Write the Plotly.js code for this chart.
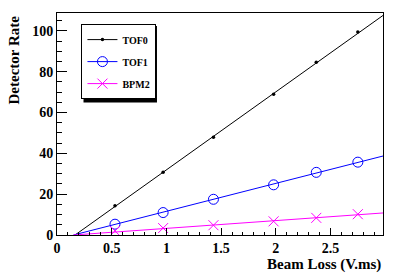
<!DOCTYPE html>
<html>
<head>
<meta charset="utf-8">
<script src="https://cdn.plot.ly/plotly-3.0.1.min.js"></script>
<style>
html,body{margin:0;padding:0;background:#fff;}
#chart{width:407px;height:277px;}
</style>
</head>
<body>
<div id="chart"></div>
<script>
// ---- data ----
var beamLoss = [0.53, 0.97, 1.43, 1.98, 2.37, 2.75];
var tof0 = [14.3, 30.8, 47.9, 69.0, 84.7, 99.5];
var tof1 = [5.3, 11.0, 17.5, 24.6, 30.7, 35.7];
var bpm2 = [2.0, 3.4, 4.8, 6.7, 8.4, 10.2];

// fitted straight lines (end points)
var fitX0 = [0.165, 2.98];
var fitY0 = [0, 107.6];
var fitX1 = [0.15, 2.98];
var fitY1 = [0, 38.7];
var fitX2 = [0.15, 2.98];
var fitY2 = [0, 10.8];

var seriesNames = ['TOF0', 'TOF1', 'BPM2'];
var xTitle = 'Beam Loss (V.ms)';
var yTitle = 'Detector Rate';

// ---- styles ----
var SERIF = 'Liberation Serif, Times New Roman, serif';
var mk0 = {symbol: 'circle', size: 3.5, color: '#000000', line: {width: 0}};
var mk1 = {symbol: 'circle-open', size: 10, color: '#0000ff', line: {color: '#0000ff', width: 1}};
var mk2 = {symbol: 'x-thin-open', size: 10, color: '#ff00ff', line: {color: '#ff00ff', width: 1}};

function pts(x, y, mk) {
  return {x: x, y: y, type: 'scatter', mode: 'markers', marker: mk,
          showlegend: false, hoverinfo: 'skip', cliponaxis: false};
}
function fit(x, y, color, mk, name, grp) {
  return {x: x, y: y, type: 'scatter', mode: 'lines+markers', name: name,
          legendgroup: grp, line: {color: color, width: 1}, marker: mk,
          selectedpoints: [], unselected: {marker: {opacity: 0}},
          hoverinfo: 'skip'};
}

var data = [
  fit(fitX0, fitY0, '#000000', mk0, seriesNames[0], 'a'),
  fit(fitX1, fitY1, '#0000ff', mk1, seriesNames[1], 'b'),
  fit(fitX2, fitY2, '#ff00ff', mk2, seriesNames[2], 'c'),
  pts(beamLoss, tof0, mk0),
  pts(beamLoss, tof1, mk1),
  pts(beamLoss, bpm2, mk2)
];

var tickFont = {family: SERIF, size: 14, weight: 'bold', color: '#000'};
var axCommon = {
  showgrid: false, zeroline: false, showline: true, mirror: true,
  linecolor: '#000', linewidth: 1, ticks: 'inside', tickcolor: '#000',
  tickwidth: 1, tickfont: tickFont, fixedrange: true
};

// legend box (plot-area fractions) and its ROOT-style drop shadow
var legX = 0.075, legY = 0.95;
var shadow = {x0: 0.0813, x1: 0.3067, y0: 0.597, y1: 0.9414};

var layout = {
  width: 407, height: 277,
  margin: {l: 57, r: 24, t: 13, b: 42, pad: 0},
  paper_bgcolor: '#fff', plot_bgcolor: '#fff',
  font: {family: SERIF, color: '#000'},
  xaxis: Object.assign({}, axCommon, {
    range: [0, 2.98], tick0: 0, dtick: 0.5, ticklen: 7,
    minor: {ticks: 'inside', dtick: 0.1, tick0: 0, ticklen: 3.5, tickcolor: '#000', tickwidth: 1, showgrid: false}
  }),
  yaxis: Object.assign({}, axCommon, {
    range: [0, 108.8], tick0: 0, dtick: 20, ticklen: 10,
    minor: {ticks: 'inside', dtick: 5, tick0: 0, ticklen: 5, tickcolor: '#000', tickwidth: 1, showgrid: false}
  }),
  showlegend: true,
  legend: {
    x: legX, y: legY, xanchor: 'left', yanchor: 'top',
    bgcolor: '#fff', bordercolor: '#000', borderwidth: 1,
    font: {family: SERIF, size: 10, weight: 'bold', color: '#000'},
    tracegroupgap: 3, traceorder: 'grouped'
  },
  shapes: [{
    type: 'rect', xref: 'paper', yref: 'paper', layer: 'above',
    x0: shadow.x0, x1: shadow.x1, y0: shadow.y0, y1: shadow.y1,
    fillcolor: '#000', line: {width: 0}
  }],
  annotations: [
    {text: xTitle, xref: 'paper', yref: 'paper', x: 1, y: -0.135,
     xanchor: 'right', yanchor: 'middle', showarrow: false,
     font: {family: SERIF, size: 15, weight: 'bold', color: '#000'}},
    {text: yTitle, xref: 'paper', yref: 'paper', x: -0.132, y: 1,
     xanchor: 'center', yanchor: 'top', textangle: -90, showarrow: false,
     font: {family: SERIF, size: 15, weight: 'bold', color: '#000'}}
  ]
};

Plotly.newPlot('chart', data, layout, {displayModeBar: false, staticPlot: true});
</script>
</body>
</html>
